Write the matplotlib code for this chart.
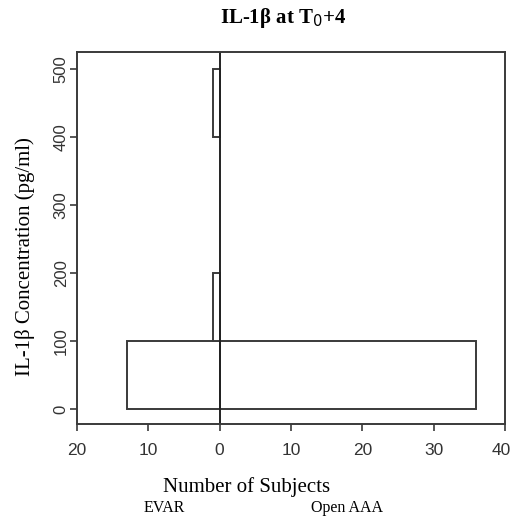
import matplotlib
matplotlib.use("Agg")
import matplotlib.pyplot as plt
import matplotlib.transforms as mtransforms

bin_edges = [0, 100, 200, 300, 400, 500]
evar_counts = [13, 1, 0, 0, 1]
open_counts = [36, 0, 0, 0, 0]
x_ticks = [-20, -10, 0, 10, 20, 30, 40]
x_tick_labels = ["20", "10", "0", "10", "20", "30", "40"]
y_ticks = [0, 100, 200, 300, 400, 500]

fig = plt.figure(figsize=(5.13, 5.19), dpi=100)
ax = fig.add_axes([77/513, 1-424/519, (505-77)/513, (424-52)/519])

ec = "#3a3a3a"
for i in range(len(evar_counts)):
    lo, hi = bin_edges[i], bin_edges[i+1]
    if evar_counts[i] > 0:
        ax.barh(lo, -evar_counts[i], height=hi-lo, align="edge", left=0,
                facecolor="white", edgecolor=ec, linewidth=1.4)
    if open_counts[i] > 0:
        ax.barh(lo, open_counts[i], height=hi-lo, align="edge", left=0,
                facecolor="white", edgecolor=ec, linewidth=1.4)

ax.axvline(0, color="#222222", linewidth=1.4)
ax.set_xlim(-20, 40)
ax.set_ylim(-22, 525)
ax.set_xticks(x_ticks)
ax.set_xticklabels(x_tick_labels, fontname="Liberation Sans", fontsize=12.5)
ax.set_yticks(y_ticks)
ax.set_yticklabels([str(v) for v in y_ticks], fontname="Liberation Sans",
                   fontsize=12, rotation=90, va="center")
for s in ax.spines.values():
    s.set_color(ec)
    s.set_linewidth(1.4)
ax.tick_params(axis="both", direction="out", length=5, width=1.2, color=ec,
               labelcolor="#333333")
ax.tick_params(axis="x", pad=9)
ax.tick_params(axis="y", pad=1)

# nudge the last x tick label inward so it fits the canvas
lbls = ax.get_xticklabels()
lbls[-1].set_transform(lbls[-1].get_transform() +
                       mtransforms.ScaledTranslation(-4/100, 0, fig.dpi_scale_trans))

fig.text(283/513, 1-18/519, "IL-1β at T$_0$+4", ha="center", va="center",
         fontname="Liberation Serif", fontweight="bold", fontsize=15)
fig.text(25/513, 1-257/519, "IL-1β Concentration (pg/ml)", rotation=90,
         ha="center", va="center", fontname="Liberation Serif", fontsize=15)
fig.text(247/513, 1-487/519, "Number of Subjects", ha="center", va="center",
         fontname="Liberation Serif", fontsize=15)
fig.text(164/513, 1-508/519, "EVAR", ha="center", va="center",
         fontname="Liberation Serif", fontsize=11.5)
fig.text(347/513, 1-508/519, "Open AAA", ha="center", va="center",
         fontname="Liberation Serif", fontsize=11.5)

fig.savefig("out.png", dpi=100)
